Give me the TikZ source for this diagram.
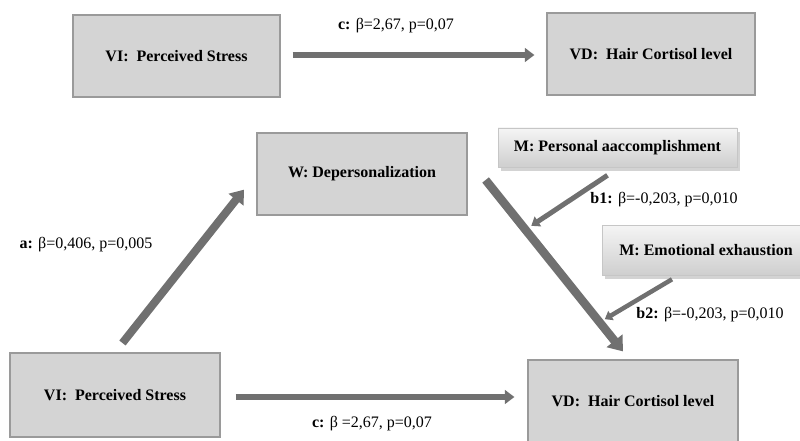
\documentclass[tikz,border=0pt]{standalone}
\usepackage{fontspec}
\setmainfont{Liberation Serif}
\usetikzlibrary{arrows.meta,calc,shadows}
\definecolor{boxgray}{HTML}{D4D4D4}
\definecolor{boxedge}{HTML}{9A9A9A}
\definecolor{arrgray}{HTML}{707070}
\begin{document}
\begin{tikzpicture}[x=1pt,y=-1pt,
  varbox/.style={draw=boxedge, line width=1.2pt, fill=boxgray, font=\bfseries\fontsize{16}{18}\selectfont,
    drop shadow={shadow xshift=0.8pt, shadow yshift=-0.8pt, opacity=0.25}, inner sep=0pt},
  mbox/.style={draw=gray!45, line width=0.6pt, top color=gray!8, bottom color=gray!38, font=\bfseries\fontsize{16}{18}\selectfont,
    drop shadow={shadow xshift=3pt, shadow yshift=-4pt, opacity=0.35}, inner sep=0pt},
  blk/.style={draw=arrgray, line width=#1, -{Triangle[length=1.6*#1, width=2.3*#1]}},
  lbl/.style={font=\fontsize{16}{18}\selectfont, inner sep=1pt}]
\useasboundingbox (0,0) rectangle (800,441);
% boxes
\node[varbox, minimum width=207pt, minimum height=82pt] (vi1) at (176.5,56) {VI:\ \ Perceived Stress};
\node[varbox, minimum width=208pt, minimum height=82pt] (vd1) at (651,54) {VD:\ \ Hair Cortisol level};
\node[varbox, minimum width=210pt, minimum height=82pt] (w) at (362,174) {W: Depersonalization};
\node[mbox, minimum width=239pt, minimum height=39pt] (pa) at (617.5,147.5) {M: Personal aaccomplishment};
\node[mbox, minimum width=208pt, minimum height=50pt] (ee) at (706,250) {M: Emotional exhaustion};
\node[varbox, minimum width=210pt, minimum height=84pt] (vi2) at (115,395) {VI:\ \ Perceived Stress};
\node[varbox, minimum width=210pt, minimum height=82pt] (vd2) at (633,401) {VD:\ \ Hair Cortisol level};
% arrow end points
\coordinate (d0) at ($(w.east)+(18,6)$);
\coordinate (d1) at ($(vd2.north)+(-10,-8)$);
\path (d0) -- (d1) coordinate[pos=0.29] (m1) coordinate[pos=0.83] (m2);
% arrows
\draw[blk=6pt, shorten <=12pt, shorten >=12pt] (vi1.east |- 0,55) -- (vd1.west |- 0,55);
\draw[blk=6pt, shorten <=15pt, shorten >=13pt] (vi2.east |- 0,397) -- (vd2.west |- 0,397);
\draw[blk=8pt, shorten <=12pt, shorten >=20pt] (vi2.north) -- (w.west);
\draw[blk=8.5pt] (d0) -- (d1);
\draw[blk=5pt, shorten >=7pt] ($(pa.south)+(-10,8)$) -- (m1);
\draw[blk=4.5pt, shorten >=6pt] ($(ee.south)+(-34,4)$) -- (m2);
% labels
\node[lbl] (lc1) at (396,26) {\textbf{c:} β=2,67, p=0,07};
\node[lbl] (la) at (86,245) {\textbf{a:} β=0,406, p=0,005};
\node[lbl] (lb1) at (664,200) {\textbf{b1:} β=-0,203, p=0,010};
\node[lbl] (lb2) at (710,315) {\textbf{b2:} β=-0,203, p=0,010};
\node[lbl] (lc2) at (372,424) {\textbf{c:} β =2,67, p=0,07};
\end{tikzpicture}
\end{document}
